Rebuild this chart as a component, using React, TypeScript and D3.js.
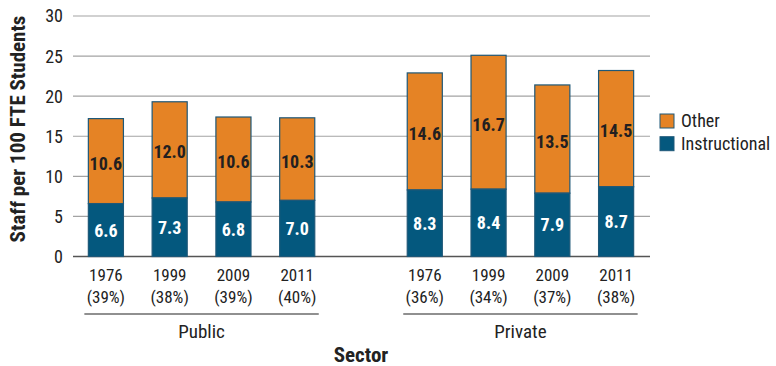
import React from "react";
import * as d3 from "d3";

const years = ["1976", "1999", "2009", "2011"];
const publicShares = ["(39%)", "(38%)", "(39%)", "(40%)"];
const privateShares = ["(36%)", "(34%)", "(37%)", "(38%)"];
const publicInstructional = [6.6, 7.3, 6.8, 7.0];
const publicOther = [10.6, 12.0, 10.6, 10.3];
const privateInstructional = [8.3, 8.4, 7.9, 8.7];
const privateOther = [14.6, 16.7, 13.5, 14.5];
const yTicks = [0, 5, 10, 15, 20, 25, 30];
const sectors = ["Public", "Private"];
const legendItems = ["Other", "Instructional"];

const W = 776;
const H = 366;
const FONT = "'Liberation Sans Narrow', 'Roboto Condensed', 'Arial Narrow', Roboto, sans-serif";
const ORANGE = "#E58325";
const BLUE = "#04587E";
const STROKE = "#1E5878";

type Row = { key: string; sector: string; year: string; share: string; instr: number; other: number };

const rows: Row[] = [
  ...years.map((y, i) => ({ key: "pub-" + y, sector: "Public", year: y, share: publicShares[i], instr: publicInstructional[i], other: publicOther[i] })),
  ...years.map((y, i) => ({ key: "priv-" + y, sector: "Private", year: y, share: privateShares[i], instr: privateInstructional[i], other: privateOther[i] })),
];

const slots = [...rows.slice(0, 4).map((r) => r.key), "gap", ...rows.slice(4).map((r) => r.key)];

export default function App() {
  const x = d3.scaleBand<string>().domain(slots).range([74, 648]).paddingInner(0.45).paddingOuter(0.225);
  const y = d3.scaleLinear().domain([0, 30]).range([256.5, 16]);
  const bw = x.bandwidth();

  const groupExtent = (sector: string) => {
    const ks = rows.filter((r) => r.sector === sector).map((r) => r.key);
    const x0 = (x(ks[0]) as number) - 4;
    const x1 = (x(ks[ks.length - 1]) as number) + bw + 4;
    return [x0, x1];
  };

  return (
    <svg width={W} height={H} style={{ position: "absolute", left: 0, top: 0 }} fontFamily={FONT}>
      <rect width={W} height={H} fill="#fff" />
      {yTicks.map((t) => (
        <g key={t}>
          <line x1={73} x2={650} y1={y(t)} y2={y(t)} stroke={t === 0 ? "#555" : "#a3a3a3"} strokeWidth={t === 0 ? 1.5 : 1.2} />
          <text x={63} y={y(t)} dy="0.36em" textAnchor="end" fontSize={18} fill="#222">{t}</text>
        </g>
      ))}
      <text transform={`translate(18,129) rotate(-90)`} textAnchor="middle" fontSize={21} fontWeight="bold" fill="#222" dy="0.35em">
        Staff per 100 FTE Students
      </text>
      {rows.map((r) => {
        const bx = x(r.key) as number;
        const cx = bx + bw / 2;
        const yi = y(r.instr);
        const yt = y(r.instr + r.other);
        return (
          <g key={r.key}>
            <rect x={bx} y={yt} width={bw} height={yi - yt} fill={ORANGE} stroke={STROKE} strokeWidth={1.2} />
            <rect x={bx} y={yi} width={bw} height={y(0) - yi} fill={BLUE} stroke={STROKE} strokeWidth={1.2} />
            <text x={cx} y={(yi + yt) / 2 + 2} dy="0.36em" textAnchor="middle" fontSize={18} fontWeight="bold" fill="#231f20">{r.other.toFixed(1)}</text>
            <text x={cx} y={(yi + y(0)) / 2} dy="0.36em" textAnchor="middle" fontSize={18} fontWeight="bold" fill="#fff">{r.instr.toFixed(1)}</text>
            <text x={cx} y={281} textAnchor="middle" fontSize={17} fill="#222">{r.year}</text>
            <text x={cx} y={303} textAnchor="middle" fontSize={17} fill="#222">{r.share}</text>
          </g>
        );
      })}
      {sectors.map((s) => {
        const [x0, x1] = groupExtent(s);
        return (
          <g key={s}>
            <line x1={x0} x2={x1} y1={314} y2={314} stroke="#222" strokeWidth={1.2} />
            <text x={(x0 + x1) / 2} y={338} textAnchor="middle" fontSize={19} fill="#222">{s}</text>
          </g>
        );
      })}
      <text x={361} y={362} textAnchor="middle" fontSize={21} fontWeight="bold" fill="#222">Sector</text>
      {legendItems.map((l, i) => (
        <g key={l} transform={`translate(660,${114 + i * 22.7})`}>
          <rect x={0} y={0} width={14} height={14} fill={i === 0 ? ORANGE : BLUE} stroke={STROKE} strokeWidth={1} />
          <text x={21} y={7} dy="0.36em" fontSize={18} fill="#222">{l}</text>
        </g>
      ))}
    </svg>
  );
}
